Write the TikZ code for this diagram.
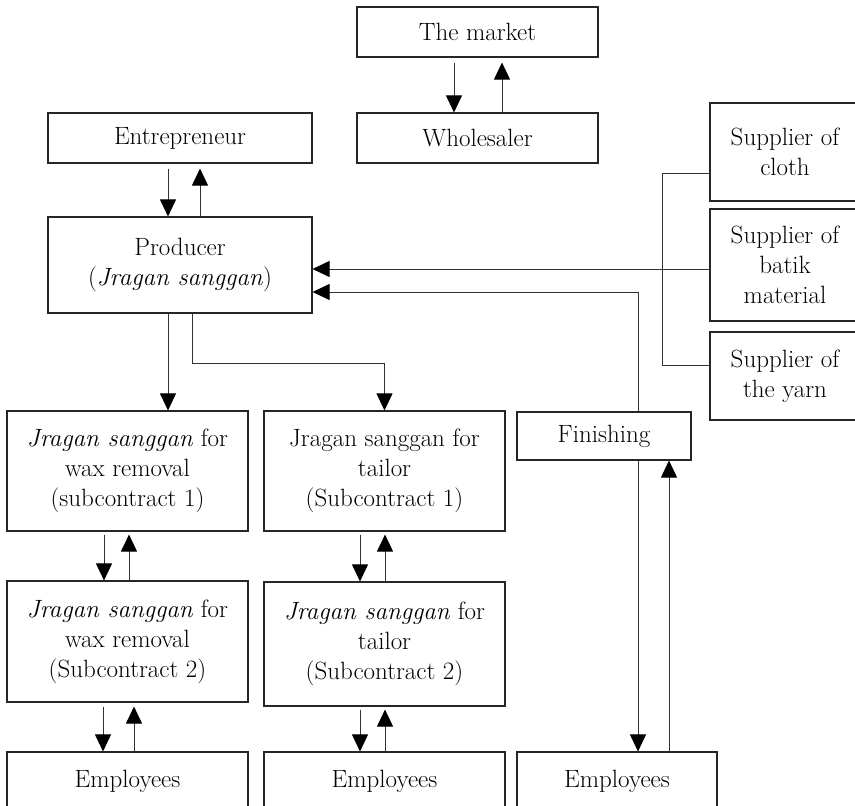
\documentclass[tikz,border=0pt]{standalone}
\usetikzlibrary{arrows.meta,calc}
\begin{document}
\begin{tikzpicture}[x=1pt,y=-1pt,
  box/.style={draw=black!85, line width=1.1pt, align=center, inner sep=0pt, text=black,
    font=\fontsize{25}{30}\selectfont},
  ln/.style={draw=black!80, line width=0.8pt},
  arr/.style={ln, -{Triangle[width=16pt,length=17pt,color=black,fill=black]}}]
\useasboundingbox (0,0) rectangle (855,806);
\clip (0,0) rectangle (855,806);

\node[box, minimum width=241pt, minimum height=50pt] (mkt) at (477.5,32) {The market};
\node[box, minimum width=241pt, minimum height=50pt] (whl) at (477.5,138) {Wholesaler};
\node[box, minimum width=264pt, minimum height=50pt] (ent) at (180,138) {Entrepreneur};
\node[box, minimum width=264pt, minimum height=96pt] (prod) at (180,265) {Producer\\(\textit{Jragan sanggan})};
\node[box, minimum width=150pt, minimum height=98pt] (cloth) at (785,152) {Supplier of\\cloth};
\node[box, minimum width=150pt, minimum height=112pt] (batik) at (785,265) {Supplier of\\batik\\material};
\node[box, minimum width=150pt, minimum height=88pt] (yarn) at (785,376) {Supplier of\\the yarn};
\node[box, minimum width=174pt, minimum height=48pt] (fin) at (604,436) {Finishing};
\node[box, minimum width=241pt, minimum height=120pt] (wax1) at (127.5,471) {\textit{Jragan sanggan} for\\wax removal\\(subcontract 1)};
\node[box, minimum width=241pt, minimum height=120pt] (tai1) at (384.5,471) {Jragan sanggan for\\tailor\\(Subcontract 1)};
\node[box, minimum width=241pt, minimum height=121pt] (wax2) at (127.5,641.5) {\textit{Jragan sanggan} for\\wax removal\\(Subcontract 2)};
\node[box, minimum width=241pt, minimum height=124pt] (tai2) at (384.5,644) {\textit{Jragan sanggan} for\\tailor\\(Subcontract 2)};
\node[box, minimum width=241pt, minimum height=58pt] (emp1) at (127.5,781) {Employees};
\node[box, minimum width=241pt, minimum height=58pt] (emp2) at (384.5,781) {Employees};
\node[box, minimum width=200pt, minimum height=58pt] (emp3) at (617,781) {Employees};

% vertical pairs
\draw[arr] ($(454,0 |- mkt.south)+(0,5)$) -- (454,0 |- whl.north);
\draw[arr] (502,0 |- whl.north) -- ($(502,0 |- mkt.south)+(0,5)$);
\draw[arr] ($(168,0 |- ent.south)+(0,5)$) -- (168,0 |- prod.north);
\draw[arr] (200,0 |- prod.north) -- ($(200,0 |- ent.south)+(0,5)$);
\draw[arr] ($(104,0 |- wax1.south)+(0,3)$) -- (104,0 |- wax2.north);
\draw[arr] (129,0 |- wax2.north) -- ($(129,0 |- wax1.south)+(0,3)$);
\draw[arr] ($(360,0 |- tai1.south)+(0,3)$) -- (360,0 |- tai2.north);
\draw[arr] (385,0 |- tai2.north) -- ($(385,0 |- tai1.south)+(0,3)$);
\draw[arr] ($(103,0 |- wax2.south)+(0,4)$) -- (103,0 |- emp1.north);
\draw[arr] (134,0 |- emp1.north) -- ($(134,0 |- wax2.south)+(0,4)$);
\draw[arr] ($(360,0 |- tai2.south)+(0,3)$) -- (360,0 |- emp2.north);
\draw[arr] (385,0 |- emp2.north) -- ($(385,0 |- tai2.south)+(0,3)$);
\draw[arr] (638,0 |- fin.south) -- (638,0 |- emp3.north);
\draw[arr] (669,0 |- emp3.north) -- (669,0 |- fin.south);

% producer to subcontractors
\draw[arr] (168,0 |- prod.south) -- (168,0 |- wax1.north);
\draw[arr] (192,0 |- prod.south) -- (192,363) -| (tai1.north);

% suppliers
\draw[ln] (cloth.west |- 0,173) -- (662,173) -- (662,365) -- (yarn.west |- 0,365);
\draw[arr] (batik.west |- 0,269) -- (prod.east |- 0,269);
\draw[arr] (638,0 |- fin.north) -- (638,292) -- (prod.east |- 0,292);
\end{tikzpicture}
\end{document}
